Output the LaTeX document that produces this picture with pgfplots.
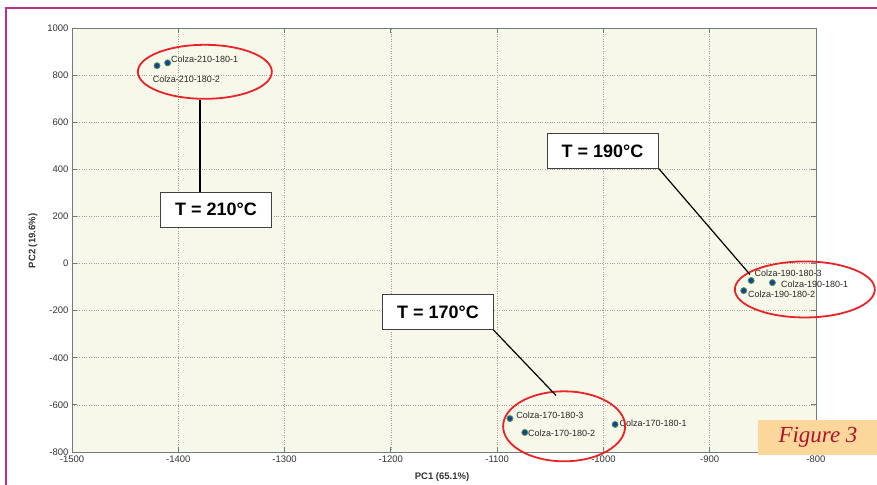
\documentclass[border=0pt]{standalone}
\usepackage{fontspec}
\setmainfont{Liberation Sans}
\newfontfamily\serifit{Liberation Serif}
\usepackage{pgfplots}
\pgfplotsset{compat=1.18}
\definecolor{framec}{HTML}{B4318F}
\definecolor{cream}{HTML}{F8F8EA}
\definecolor{axgray}{HTML}{6E7C7C}
\definecolor{ptblue}{HTML}{1E3C9E}
\definecolor{ptgreen}{HTML}{3C9A3C}
\definecolor{figred}{HTML}{B0142A}
\definecolor{figbg}{HTML}{FBD79C}
\definecolor{ellred}{HTML}{E8232A}
\begin{document}
\begin{tikzpicture}
\useasboundingbox (0pt,0pt) rectangle (877pt,484pt);
\fill[white] (0pt,0pt) rectangle (877pt,484pt);
\draw[framec, line width=2.5pt] (6pt,-2pt) -- (6pt,476pt) -- (880pt,476pt);
\begin{axis}[
 at={(72pt,32pt)}, anchor=south west, scale only axis, width=744pt, height=424pt,
 xmin=-1500,xmax=-800,ymin=-800,ymax=1000,
 xtick={-1500,-1400,...,-800}, ytick={-800,-600,...,1000},
 grid=major, major grid style={dotted, gray!75, line width=0.7pt},
 axis line style={axgray, line width=0.9pt},
 tick style={axgray, line width=0.9pt}, major tick length=5pt,
 tick align=inside,
 axis background/.style={fill=cream},
 ticklabel style={font=\fontsize{9.5}{10}\selectfont, text=black!80},
 /pgf/number format/assume math mode=true,
 /pgf/number format/set thousands separator={},
 scaled ticks=false,
 clip=false,
]
\addplot[only marks, mark=*, mark size=3pt, mark options={fill=ptblue, draw=ptgreen, line width=0.8pt}] coordinates {
(-1410,852) (-1420,840) (-861,-72) (-841,-81) (-868,-115) (-1088,-658) (-1074,-717) (-989,-683)};
\begin{scope}[every node/.style={anchor=west, inner sep=0pt, font=\fontsize{9}{10}\selectfont, text=black!85}]
\node at (axis cs:-1407,866) {Colza-210-180-1};
\node at (axis cs:-1424,781) {Colza-210-180-2};
\node at (axis cs:-858,-42) {Colza-190-180-3};
\node at (axis cs:-833,-89) {Colza-190-180-1};
\node at (axis cs:-864,-132) {Colza-190-180-2};
\node at (axis cs:-1082,-645) {Colza-170-180-3};
\node at (axis cs:-1071,-722) {Colza-170-180-2};
\node at (axis cs:-985,-679) {Colza-170-180-1};
\end{scope}
\draw[ellred, line width=1.8pt] (axis cs:-1375,814) ellipse [x radius=67pt, y radius=27pt];
\draw[ellred, line width=1.8pt] (axis cs:-810.5,-110) ellipse [x radius=70pt, y radius=28pt];
\draw[ellred, line width=1.8pt] (axis cs:-1037,-691) ellipse [x radius=61pt, y radius=35pt];
\draw[black, line width=1.2pt] (axis cs:-1379.6,696) -- (axis cs:-1379.6,305);
\draw[black, line width=1.2pt] (axis cs:-949.6,411.7) -- (axis cs:-862.1,-46.7);
\draw[black, line width=1.2pt] (axis cs:-1103.9,-280) -- (axis cs:-1044.6,-560);
\begin{scope}[every node/.style={draw=black!75, fill=white, line width=0.9pt, minimum width=111pt, minimum height=35pt, inner sep=0pt, font=\fontsize{18}{20}\selectfont\bfseries}]
\node at (axis cs:-1364.5,229) {T = 210°C};
\node at (axis cs:-1000.9,477.5) {T = 190°C};
\node at (axis cs:-1155.7,-206) {T = 170°C};
\end{scope}
\end{axis}
\node[rotate=90, font=\fontsize{9.5}{10}\selectfont\bfseries, text=black!80] at (33pt,243pt) {PC2 (19.6\%)};
\node[font=\fontsize{9.5}{10}\selectfont\bfseries, text=black!80] at (442pt,7pt) {PC1 (65.1\%)};
\fill[figbg] (758pt,29pt) rectangle (877pt,64pt);
\node[font=\serifit\itshape\fontsize{23}{24}\selectfont, text=figred] at (818pt,46.5pt) {Figure 3};
\end{tikzpicture}
\end{document}
